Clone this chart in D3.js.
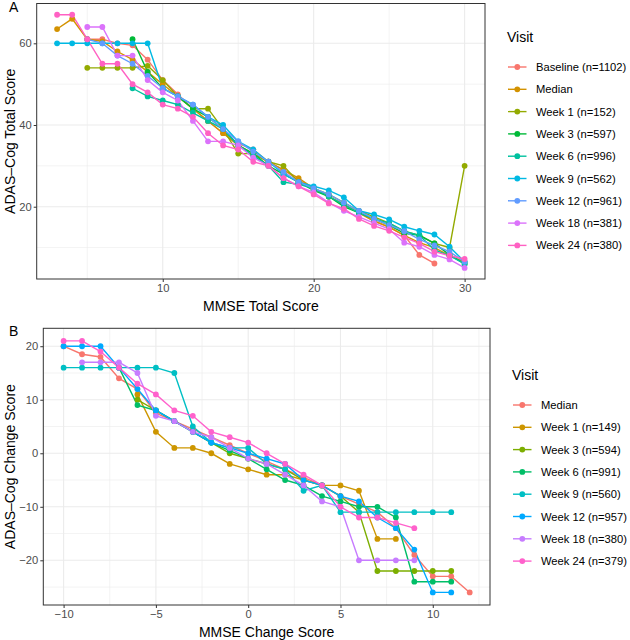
<!DOCTYPE html>
<html>
<head>
<meta charset="utf-8">
<script src="https://cdn.jsdelivr.net/npm/d3@7"></script>
<style>
body { margin: 0; background: #ffffff; }
text { font-family: "Liberation Sans", Arial, sans-serif; }
</style>
</head>
<body>
<div id="canvas"></div>
<script>
var canvasWidth = 630, canvasHeight = 640;

// ---- panel A data: [MMSE total, ADAS-Cog total]
var visitsA = ["Baseline (n=1102)", "Median", "Week 1 (n=152)", "Week 3 (n=597)", "Week 6 (n=996)",
               "Week 9 (n=562)", "Week 12 (n=961)", "Week 18 (n=381)", "Week 24 (n=380)"];
var colorsA = ["#F8766D", "#D39200", "#93AA00", "#00BA38", "#00C19F", "#00B9E3", "#619CFF", "#DB72FB", "#FF61C3"];

var totalBaseline = [[5,61],[6,61],[7,60],[8,59.5],[9,56],[10,51],[11,47.5],[12,44],[13,41],[14,38],[15,35.5],[16,34],
                     [17,31],[18,29],[19,26.5],[20,24.5],[21,22.5],[22,20.5],[23,18.5],[24,16.5],[25,15],[26,13],[27,8.2],[28,6.1]];
var totalMedian   = [[3,63.5],[4,66],[5,61],[6,60.5],[7,58],[8,56],[9,53],[10,50],[11,47],[12,44],[13,41],[14,38],[15,35],
                     [16,33],[17,31],[18,29],[19,27],[20,24.5],[21,22.5],[22,20.5],[23,18.5],[24,16.5],[25,15],[26,13],[27,11.2],[28,10],[29,8],[30,6.5]];
var totalWeek1    = [[5,54],[6,54],[7,54],[8,54],[9,54.5],[10,51],[11,47],[12,44],[13,44],[14,39],[15,33],[16,33],[17,31],
                     [18,30],[19,26],[20,24.5],[21,23],[22,21],[23,19],[24,17.5],[25,16],[26,14],[27,13],[28,11],[29,10],[30,30]];
var totalWeek3    = [[8,61],[9,53],[10,49],[11,47],[12,44],[13,42],[14,39],[15,35],[16,33],[17,30],[18,28],[19,26],[20,24],
                     [21,22.5],[22,20],[23,18.5],[24,17],[25,15.5],[26,13.5],[27,13],[28,11],[29,8.2],[30,6]];
var totalWeek6    = [[8,49],[9,47],[10,46],[11,45],[12,43],[13,41],[14,39],[15,35],[16,32.5],[17,30],[18,26],[19,25.5],[20,24.5],
                     [21,22.5],[22,20.5],[23,18.5],[24,17],[25,16],[26,14],[27,13],[28,9.4],[29,8],[30,6]];
var totalWeek9    = [[3,60],[4,60],[5,60],[6,60],[7,60],[8,60],[9,60],[10,49],[11,47],[12,45],[13,42],[14,40],[15,36],[16,34],
                     [17,31],[18,28],[19,26],[20,25],[21,24],[22,22.3],[23,19],[24,18.1],[25,16.9],[26,15.1],[27,14.1],[28,13.2],[29,10.2],[30,6.5]];
var totalWeek12   = [[5,61],[6,60],[7,57],[8,55],[9,52],[10,49],[11,47],[12,45],[13,42],[14,39],[15,36],[16,33.5],[17,31],
                     [18,28.5],[19,26],[20,24.5],[21,23],[22,21],[23,19],[24,17],[25,15.5],[26,14],[27,12],[28,10.5],[29,9],[30,6.5]];
var totalWeek18   = [[5,64],[6,64],[7,57],[8,57],[9,51],[10,48],[11,46],[12,41],[13,36],[14,36],[15,35],[16,32],[17,30],
                     [18,27],[19,25],[20,23.5],[21,21],[22,19],[23,17.5],[24,16],[25,14.5],[26,11.2],[27,10.2],[28,8.2],[29,7.1],[30,5]];
var totalWeek24   = [[3,67],[4,67],[5,61],[6,55],[7,55],[8,50],[9,48],[10,45],[11,44],[12,42],[13,38],[14,35],[15,34],[16,31],
                     [17,30],[18,27],[19,25],[20,23],[21,20.8],[22,19.5],[23,17],[24,15.3],[25,14.1],[26,12.5],[27,11],[28,9],[29,8],[30,7.2]];

// ---- panel B data: [MMSE change, ADAS-Cog change]
var visitsB = ["Median", "Week 1 (n=149)", "Week 3 (n=594)", "Week 6 (n=991)", "Week 9 (n=560)",
               "Week 12 (n=957)", "Week 18 (n=380)", "Week 24 (n=379)"];
var colorsB = ["#F8766D", "#CD9600", "#7CAE00", "#00BE67", "#00BFC4", "#00A9FF", "#C77CFF", "#FF61CC"];

var changeMedian = [[-10,20],[-9,18.5],[-8,18],[-7,14],[-6,12],[-5,7.5],[-4,6],[-3,4.5],[-2,3],[-1,1.5],[0,0],[1,-1.5],
                    [2,-3],[3,-4.5],[4,-6],[5,-8],[6,-9.5],[7,-11],[8,-14],[9,-19],[10,-23],[11,-23],[12,-26]];
var changeWeek1  = [[-6,11],[-5,4],[-4,1],[-3,1],[-2,0],[-1,-2],[0,-3],[1,-4],[2,-4],[3,-5],[4,-6],[5,-6],[6,-7],[7,-16],[8,-16]];
var changeWeek3  = [[-6,10],[-5,8],[-4,6],[-3,4],[-2,2],[-1,0],[0,-1],[1,-2],[2,-3],[3,-5],[4,-6],[5,-8],[6,-11],
                    [7,-22],[8,-22],[9,-22],[10,-22],[11,-22]];
var changeWeek6  = [[-7,16],[-6,9],[-5,8],[-4,6],[-3,4],[-2,2],[-1,0.5],[0,-1],[1,-3],[2,-5],[3,-6],[4,-8],[5,-9],[6,-10],
                    [7,-10],[8,-12],[9,-24],[10,-24],[11,-24]];
var changeWeek9  = [[-10,16],[-9,16],[-8,16],[-7,16],[-6,16],[-5,16],[-4,15],[-3,5],[-2,2],[-1,1],[0,1],[1,-2],[2,-3],
                    [3,-7],[4,-6],[5,-11],[6,-11],[7,-11],[8,-11],[9,-11],[10,-11],[11,-11]];
var changeWeek12 = [[-10,20],[-9,20],[-8,20],[-7,16],[-6,12],[-5,8],[-4,6],[-3,4],[-2,2],[-1,1],[0,0],[1,-1],[2,-2],
                    [3,-5],[4,-6],[5,-8],[6,-9],[7,-12],[8,-14],[9,-18],[10,-26],[11,-26]];
var changeWeek18 = [[-9,17],[-8,17],[-7,17],[-6,15],[-5,7],[-4,6],[-3,4],[-2,3],[-1,1],[0,-1],[1,-2],[2,-4],[3,-6],
                    [4,-9],[5,-10],[6,-20],[7,-20],[8,-20],[9,-20]];
var changeWeek24 = [[-10,21],[-9,21],[-8,19],[-7,16],[-6,13],[-5,11],[-4,8],[-3,7],[-2,4],[-1,3],[0,2],[1,0],[2,-2],
                    [3,-4],[4,-6],[5,-10],[6,-12],[7,-12],[8,-13],[9,-14]];

var seriesA = [totalBaseline, totalMedian, totalWeek1, totalWeek3, totalWeek6, totalWeek9, totalWeek12, totalWeek18, totalWeek24];
var seriesB = [changeMedian, changeWeek1, changeWeek3, changeWeek6, changeWeek9, changeWeek12, changeWeek18, changeWeek24];

var xTicksA = [10, 20, 30], xMinorA = [5, 15, 25];
var yTicksA = [20, 40, 60], yMinorA = [10, 30, 50];
var xTicksB = [-10, -5, 0, 5, 10], xMinorB = [-7.5, -2.5, 2.5, 7.5, 12.5];
var yTicksB = [-20, -10, 0, 10, 20], yMinorB = [-25, -15, -5, 5, 15];

var svg = d3.select("#canvas").append("svg")
            .attr("width", canvasWidth)
            .attr("height", canvasHeight)
            .attr("viewBox", "0 0 " + canvasWidth + " " + canvasHeight);

svg.append("rect").attr("width", canvasWidth).attr("height", canvasHeight).attr("fill", "#ffffff");

function fmt(v)
{
    return v < 0 ? "\u2212" + Math.abs(v) : "" + v;
}

function drawPanel(p)
{
    var x = d3.scaleLinear().domain(p.xDomain).range([p.left, p.right]);
    var y = d3.scaleLinear().domain(p.yDomain).range([p.bottom, p.top]);
    var g = svg.append("g");

    // grid
    p.xMinor.forEach(function(v) {
        g.append("line").attr("x1", x(v)).attr("x2", x(v)).attr("y1", p.top).attr("y2", p.bottom)
         .attr("stroke", "#ebebeb").attr("stroke-width", 0.6);
    });
    p.yMinor.forEach(function(v) {
        g.append("line").attr("x1", p.left).attr("x2", p.right).attr("y1", y(v)).attr("y2", y(v))
         .attr("stroke", "#ebebeb").attr("stroke-width", 0.6);
    });
    p.xTicks.forEach(function(v) {
        g.append("line").attr("x1", x(v)).attr("x2", x(v)).attr("y1", p.top).attr("y2", p.bottom)
         .attr("stroke", "#ebebeb").attr("stroke-width", 1.1);
    });
    p.yTicks.forEach(function(v) {
        g.append("line").attr("x1", p.left).attr("x2", p.right).attr("y1", y(v)).attr("y2", y(v))
         .attr("stroke", "#ebebeb").attr("stroke-width", 1.1);
    });

    // lines and points
    var line = d3.line().x(function(d) { return x(d[0]); }).y(function(d) { return y(d[1]); });
    p.series.forEach(function(s, i) {
        g.append("path").attr("d", line(s)).attr("fill", "none")
         .attr("stroke", p.colors[i]).attr("stroke-width", 1.4);
    });
    p.series.forEach(function(s, i) {
        g.selectAll(null).data(s).enter().append("circle")
         .attr("cx", function(d) { return x(d[0]); })
         .attr("cy", function(d) { return y(d[1]); })
         .attr("r", 2.9)
         .attr("fill", p.colors[i]);
    });

    // border
    g.append("rect").attr("x", p.left).attr("y", p.top)
     .attr("width", p.right - p.left).attr("height", p.bottom - p.top)
     .attr("fill", "none").attr("stroke", "#333333").attr("stroke-width", 1);

    // axes
    var xAxis = d3.axisBottom(x).tickValues(p.xTicks).tickSize(3).tickPadding(2).tickFormat(fmt);
    var yAxis = d3.axisLeft(y).tickValues(p.yTicks).tickSize(3).tickPadding(2).tickFormat(fmt);
    var ax = g.append("g").attr("transform", "translate(0," + p.bottom + ")").call(xAxis);
    var ay = g.append("g").attr("transform", "translate(" + p.left + ",0)").call(yAxis);
    [ax, ay].forEach(function(a) {
        a.select(".domain").remove();
        a.selectAll(".tick line").attr("stroke", "#333333");
        a.selectAll(".tick text").attr("fill", "#4d4d4d").style("font-size", "11.2px")
         .style("font-family", "'Liberation Sans', Arial, sans-serif");
    });

    // titles
    g.append("text").attr("x", (p.left + p.right) / 2).attr("y", p.bottom + 32)
     .attr("text-anchor", "middle").style("font-size", "14px").text(p.xTitle);
    g.append("text").attr("transform", "translate(" + 15 + "," + ((p.top + p.bottom) / 2) + ") rotate(-90)")
     .attr("text-anchor", "middle").style("font-size", "14px").text(p.yTitle);
    g.append("text").attr("x", 9).attr("y", p.top + 8).style("font-size", "14px").text(p.tag);

    // legend
    var lx = p.right + 22;
    g.append("text").attr("x", lx).attr("y", p.legendTop).style("font-size", "14px").text("Visit");
    p.labels.forEach(function(label, i) {
        var cy = p.legendTop + 25 + i * 22.3;
        g.append("line").attr("x1", lx + 1).attr("x2", lx + 19.5).attr("y1", cy).attr("y2", cy)
         .attr("stroke", p.colors[i]).attr("stroke-width", 1.4);
        g.append("circle").attr("cx", lx + 10.3).attr("cy", cy).attr("r", 2.9).attr("fill", p.colors[i]);
        g.append("text").attr("x", lx + 29).attr("y", cy + 4).style("font-size", "11.2px").text(label);
    });
}

drawPanel({
    tag: "A", left: 36.7, right: 485, top: 3.5, bottom: 279,
    xDomain: [1.65, 31.35], yDomain: [2.3, 69.75],
    xTicks: xTicksA, xMinor: xMinorA, yTicks: yTicksA, yMinor: yMinorA,
    series: seriesA, colors: colorsA, labels: visitsA,
    xTitle: "MMSE Total Score", yTitle: "ADAS\u2013Cog Total Score", legendTop: 42
});

drawPanel({
    tag: "B", left: 43.3, right: 490, top: 328.3, bottom: 605,
    xDomain: [-11.1, 13.1], yDomain: [-28.35, 23.35],
    xTicks: xTicksB, xMinor: xMinorB, yTicks: yTicksB, yMinor: yMinorB,
    series: seriesB, colors: colorsB, labels: visitsB,
    xTitle: "MMSE Change Score", yTitle: "ADAS\u2013Cog Change Score", legendTop: 380
});
</script>
</body>
</html>
